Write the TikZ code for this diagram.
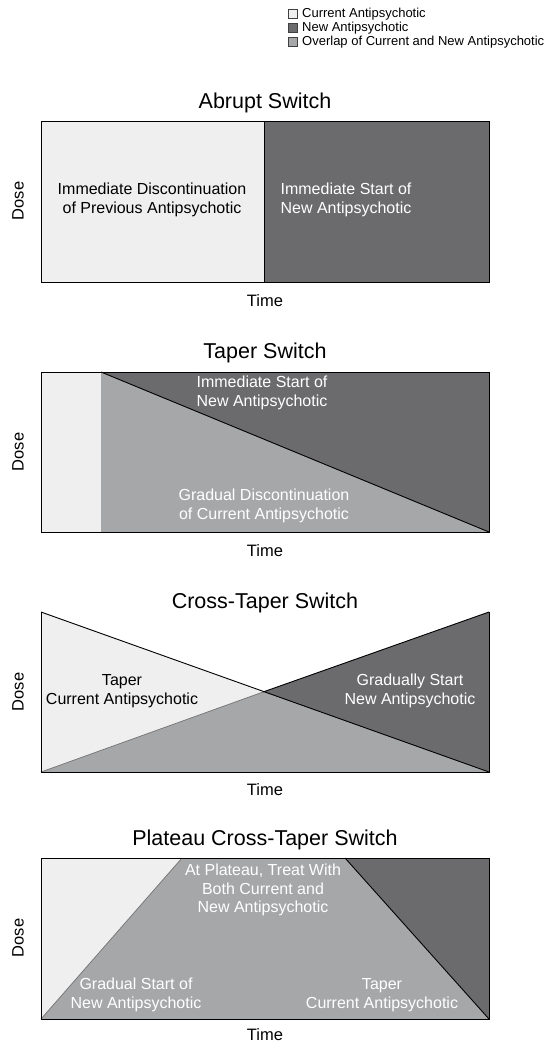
\documentclass[tikz,border=0pt]{standalone}
\usepackage{fontspec}
\setmainfont{Liberation Sans}
\definecolor{lightc}{HTML}{EFEFEF}
\definecolor{darkc}{HTML}{6B6B6D}
\definecolor{midc}{HTML}{A6A7A9}
\begin{document}
\begin{tikzpicture}[x=1pt,y=-1pt,
  title/.style={font=\fontsize{21.5}{25}\selectfont, inner sep=0pt},
  axis/.style={font=\fontsize{16.5}{19}\selectfont, inner sep=0pt},
  lbl/.style={font=\fontsize{16}{18.5}\selectfont, align=center, inner sep=0pt},
  wlbl/.style={lbl, text=white},
  leg/.style={font=\fontsize{13}{15}\selectfont, anchor=west, inner sep=0pt},
  legbox/.style={draw=black!75, line width=0.7pt, minimum size=9pt, inner sep=0pt},
  edge/.style={line width=0.9pt, black}]
\useasboundingbox (0,0) rectangle (549,1049);
\fill[white] (0,0) rectangle (549,1049);

% legend
\node[legbox, fill=lightc] (l1) at (293,14) {};
\node[legbox, fill=darkc] (l2) at (293,28) {};
\node[legbox, fill=midc] (l3) at (293,42) {};
\node[leg] (t1) at (302,14) {Current Antipsychotic};
\node[leg] (t2) at (302,28) {New Antipsychotic};
\node[leg] (t3) at (302,42) {Overlap of Current and New Antipsychotic};

% ---- Abrupt switch
\node[title] (h1) at (265,103) {Abrupt Switch};
\fill[lightc] (41,121) rectangle (264,282);
\fill[darkc] (264,121) rectangle (489,282);
\draw[edge] (41,121) rectangle (489,282);
\draw[edge] (264,121) -- (264,282);
\node[lbl] (a1) at (152,200) {Immediate Discontinuation\\of Previous Antipsychotic};
\node[wlbl] (a2) at (346,200) {Immediate Start of\\New Antipsychotic};
\node[axis, rotate=90] (d1) at (18,201) {Dose};
\node[axis] (x1) at (265,301) {Time};

% ---- Taper switch
\node[title] (h2) at (265,353) {Taper Switch};
\fill[lightc] (41,372) rectangle (101,532);
\fill[midc] (101,372) rectangle (489,532);
\fill[darkc] (101,372) -- (489,372) -- (489,532) -- cycle;
\draw[edge] (41,372) rectangle (489,532);
\draw[edge] (101,372) -- (489,532);
\node[wlbl] (b1) at (262,393) {Immediate Start of\\New Antipsychotic};
\node[wlbl] (b2) at (264,506) {Gradual Discontinuation\\of Current Antipsychotic};
\node[axis, rotate=90] (d2) at (18,452) {Dose};
\node[axis] (x2) at (265,551) {Time};

% ---- Cross-taper switch
\node[title] (h3) at (265,603) {Cross-Taper Switch};
\coordinate (c0) at (263,692);
\fill[lightc] (41,612) -- (c0) -- (41,772) -- cycle;
\fill[darkc] (489,612) -- (c0) -- (489,772) -- cycle;
\fill[midc] (41,772) -- (c0) -- (489,772) -- cycle;
\draw[black!55, line width=0.7pt] (41,772) -- (c0);
\draw[edge] (41,612) -- (489,772);
\draw[edge] (c0) -- (489,612);
\draw[edge] (41,612) -- (41,772) -- (489,772) -- (489,612);
\node[lbl] (c1) at (122,691) {Taper\\Current Antipsychotic};
\node[wlbl] (c2) at (410,691) {Gradually Start\\New Antipsychotic};
\node[axis, rotate=90] (d3) at (18,692) {Dose};
\node[axis] (x3) at (265,790) {Time};

% ---- Plateau cross-taper switch
\node[title] (h4) at (265,840) {Plateau Cross-Taper Switch};
\fill[lightc] (41,858) -- (182,858) -- (41,1019) -- cycle;
\fill[darkc] (345,858) -- (489,858) -- (489,1019) -- cycle;
\fill[midc] (41,1019) -- (182,858) -- (345,858) -- (489,1019) -- cycle;
\draw[black!55, line width=0.7pt] (41,1019) -- (182,858);
\draw[edge] (345,858) -- (489,1019);
\draw[edge] (41,858) rectangle (489,1019);
\node[wlbl] (p1) at (263,890) {At Plateau, Treat With\\Both Current and\\New Antipsychotic};
\node[wlbl] (p2) at (136,995) {Gradual Start of\\New Antipsychotic};
\node[wlbl] (p3) at (382,995) {Taper\\Current Antipsychotic};
\node[axis, rotate=90] (d4) at (18,938) {Dose};
\node[axis] (x4) at (265,1035) {Time};
\end{tikzpicture}
\end{document}
